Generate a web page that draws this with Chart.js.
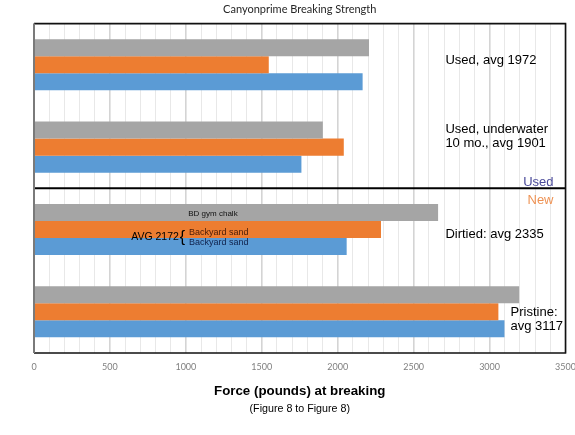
<!DOCTYPE html>
<html>
<head>
<meta charset="utf-8">
<script src="https://cdn.jsdelivr.net/npm/chart.js@4.4.1/dist/chart.umd.min.js"></script>
<style>
  html, body { margin: 0; padding: 0; background: #ffffff; }
  #wrap { width: 575px; height: 435px; position: relative; }
</style>
</head>
<body>
<div id="wrap"><canvas id="c"></canvas></div>
<script>
// ---- data ----
const categories = ["Used", "Used, underwater 10 mo.", "Dirtied", "Pristine"];
const seriesNames = ["Sample A", "Sample B", "Sample C"];
const grayValues   = [2206, 1902, 2661, 3195];
const orangeValues = [1546, 2040, 2285, 3058];
const blueValues   = [2164, 1761, 2059, 3098];
const xMin = 0, xMax = 3500, xStep = 100, xLabelEvery = 500;

const chartTitle = "Canyonprime Breaking Strength";
const axisTitle = "Force (pounds) at breaking";
const axisSubtitle = "(Figure 8 to Figure 8)";

// annotation texts: [text, xValue, categoryPosition, style]
const notes = [
  ["Used, avg 1972",      2709, -0.014, "big"],
  ["Used, underwater",    2709,  0.825, "big"],
  ["10 mo., avg 1901",    2709,  0.995, "big"],
  ["Used",                3421,  1.470, "used"],
  ["New",                 3421,  1.688, "new"],
  ["Dirtied: avg 2335",   2709,  2.102, "big"],
  ["Pristine:",           3138,  3.045, "big"],
  ["avg 3117",            3138,  3.215, "big"],
  ["BD gym chalk",        1016,  1.834, "tiny"],
  ["AVG 2172",             640,  2.130, "avg"],
  ["{",                    960,  2.150, "brace"],
  ["Backyard sand",       1020,  2.065, "sandO"],
  ["Backyard sand",       1020,  2.187, "sandB"]
];

const noteStyles = {
  big:   { font: "13px 'Liberation Sans', Arial, sans-serif", color: "#000000", align: "left" },
  used:  { font: "13px 'Liberation Sans', Arial, sans-serif", color: "#4B4B9A", align: "right" },
  new:   { font: "13px 'Liberation Sans', Arial, sans-serif", color: "#EE9254", align: "right" },
  tiny:  { font: "8px 'Liberation Sans', Arial, sans-serif",  color: "#111111", align: "left" },
  avg:   { font: "10.5px 'Liberation Sans', Arial, sans-serif", color: "#000000", align: "left" },
  brace: { font: "16px 'Liberation Sans', Arial, sans-serif", color: "#000000", align: "left" },
  sandO: { font: "9px 'Liberation Sans', Arial, sans-serif",  color: "#4A1C08", align: "left" },
  sandB: { font: "9px 'Liberation Sans', Arial, sans-serif",  color: "#10224C", align: "left" }
};

const framePlugin = {
  id: "frameAndNotes",
  afterDatasetsDraw(chart) {
    const { ctx, chartArea: a, scales } = chart;
    const x = scales.x, y = scales.y;
    ctx.save();
    // separator between Used and New groups
    const sepY = (y.getPixelForValue(1) + y.getPixelForValue(2)) / 2;
    ctx.strokeStyle = "#000000";
    ctx.lineWidth = 2;
    ctx.beginPath();
    ctx.moveTo(a.left, sepY);
    ctx.lineTo(a.right, sepY);
    ctx.stroke();
    // frame
    ctx.lineWidth = 1.6;
    ctx.strokeStyle = "#111111";
    ctx.beginPath();
    ctx.moveTo(a.left, a.top);
    ctx.lineTo(a.right, a.top);
    ctx.lineTo(a.right, a.bottom);
    ctx.lineTo(a.left, a.bottom);
    ctx.stroke();
    ctx.strokeStyle = "#7a7a7a";
    ctx.lineWidth = 2;
    ctx.beginPath();
    ctx.moveTo(a.left, a.top);
    ctx.lineTo(a.left, a.bottom);
    ctx.stroke();
    // notes
    ctx.textBaseline = "alphabetic";
    notes.forEach(([t, xv, yc, st]) => {
      const s = noteStyles[st];
      ctx.font = s.font;
      ctx.fillStyle = s.color;
      ctx.textAlign = s.align;
      ctx.fillText(t, x.getPixelForValue(xv), y.getPixelForValue(yc));
    });
    ctx.restore();
  }
};

new Chart(document.getElementById("c"), {
  type: "bar",
  data: {
    labels: categories,
    datasets: [
      { label: seriesNames[0], data: grayValues,   backgroundColor: "#A5A5A5" },
      { label: seriesNames[1], data: orangeValues, backgroundColor: "#ED7D31" },
      { label: seriesNames[2], data: blueValues,   backgroundColor: "#5B9BD5" }
    ]
  },
  options: {
    indexAxis: "y",
    responsive: true,
    maintainAspectRatio: false,
    animation: false,
    events: [],
    datasets: { bar: { categoryPercentage: 0.62, barPercentage: 1.0, borderWidth: 0 } },
    layout: { padding: { left: 34, right: 9.5, top: 0, bottom: 0 } },
    plugins: {
      legend: { display: false },
      tooltip: { enabled: false },
      title: {
        display: true,
        text: chartTitle,
        color: "#262626",
        font: { family: "Lato, 'Open Sans', sans-serif", size: 11, weight: "normal" },
        padding: { top: 3, bottom: 7.4 }
      },
      subtitle: {
        display: true,
        position: "bottom",
        text: axisSubtitle,
        color: "#000000",
        font: { family: "'Liberation Sans', Arial, sans-serif", size: 10.7, weight: "normal" },
        padding: { top: 3.6, bottom: 19.6 }
      }
    },
    scales: {
      x: {
        type: "linear",
        min: xMin,
        max: xMax,
        afterFit(scale) { scale.paddingLeft = 0; scale.paddingRight = 0; },
        ticks: {
          stepSize: xStep,
          autoSkip: false,
          maxRotation: 0,
          padding: 0.5,
          color: "#7F7F7F",
          font: { family: "Lato, 'Open Sans', sans-serif", size: 9 },
          callback: (v) => (v % xLabelEvery === 0 ? String(v) : "")
        },
        grid: {
          drawTicks: true,
          tickLength: 8,
          tickColor: "rgba(0,0,0,0)",
          color: (c) => (c.tick && c.tick.value % xLabelEvery === 0 ? "#D4D4D4" : "#E8E8E8"),
          lineWidth: (c) => (c.tick && c.tick.value % xLabelEvery === 0 ? 1.6 : 1)
        },
        border: { display: false },
        title: {
          display: true,
          text: axisTitle,
          color: "#000000",
          font: { family: "'Liberation Sans', Arial, sans-serif", size: 13.3, weight: "bold" },
          padding: { top: 10.2, bottom: 0 }
        }
      },
      y: {
        display: false,
        grid: { display: false }
      }
    }
  },
  plugins: [framePlugin]
});
</script>
</body>
</html>
